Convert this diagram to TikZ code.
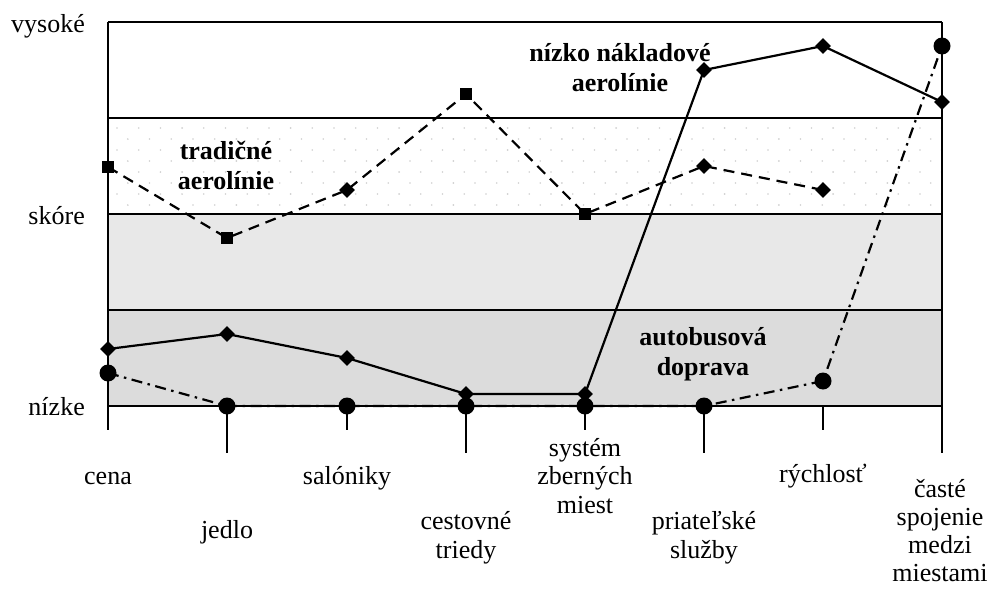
\documentclass[tikz,border=0pt]{standalone}
\usepackage{fontspec}
\setmainfont{Liberation Serif}
\usetikzlibrary{shapes.geometric}
\begin{document}
\begin{tikzpicture}[x=1pt,y=-1pt,
  lbl/.style={font=\fontsize{26}{28.5}\selectfont, align=center, inner sep=0pt},
  blbl/.style={font=\fontsize{26}{30}\selectfont\bfseries, align=center, inner sep=0pt},
  ylbl/.style={font=\fontsize{26}{28.5}\selectfont, anchor=base east, inner sep=0pt},
  frame/.style={line width=1.8pt},
  tickline/.style={line width=1.6pt},
  trad/.style={line width=2.2pt, dash pattern=on 11pt off 7pt},
  low/.style={line width=2.2pt},
  bus/.style={line width=2.2pt, dash pattern=on 11pt off 5.5pt on 2.5pt off 5.5pt},
  sqmark/.style={rectangle, fill=black, minimum size=11.5pt, inner sep=0pt},
  dmmark/.style={diamond, fill=black, minimum size=16pt, inner sep=0pt},
  cmark/.style={circle, fill=black, minimum size=17pt, inner sep=0pt},
]
\definecolor{bandA}{HTML}{E8E8E8}
\definecolor{bandB}{HTML}{DCDCDC}
\definecolor{dotc}{HTML}{CFCFCF}
\useasboundingbox (0,0) rectangle (991,589);

% bands
\fill[bandA] (108,214) rectangle (942,310);
\fill[bandB] (108,310) rectangle (942,406);
\begin{scope}
\clip (108,118) rectangle (942,214);
\foreach \i in {0,...,8}{
  \foreach \j in {0,...,39}{
    \pgfmathsetmacro{\dx}{117+21.7*\j+10.85*mod(\i,2)}
    \pgfmathsetmacro{\dy}{128+11*\i}
    \fill[dotc] (\dx,\dy) circle (0.9pt);
  }
}
\end{scope}

% frame coordinates
\coordinate (tl) at (108,22);
\coordinate (tr) at (942,22);
\coordinate (l1) at (108,118);
\coordinate (r1) at (942,118);
\coordinate (l2) at (108,214);
\coordinate (r2) at (942,214);
\coordinate (l3) at (108,310);
\coordinate (r3) at (942,310);
\coordinate (bl) at (108,406);
\coordinate (br) at (942,406);

% category baseline points and tick ends
\foreach \n/\x/\e in {1/108/430, 2/227/453, 3/347/430, 4/466/453, 5/585/430, 6/704/453, 7/823/430, 8/942/453}{
  \coordinate (b\n) at (\x,406);
  \coordinate (e\n) at (\x,\e);
}

\draw[frame] (tl) -- (tr);
\draw[frame] (l1) -- (r1);
\draw[frame] (l2) -- (r2);
\draw[frame] (l3) -- (r3);
\draw[frame] (bl) -- (br);
\draw[frame] (tl) -- (b1);
\draw[frame] (tr) -- (b8);
\foreach \n in {1,...,8}{ \draw[tickline] (b\n) -- (e\n); }

% data points
% traditional airlines
\coordinate (ta1) at (108,167);
\coordinate (ta2) at (227,238);
\coordinate (ta3) at (347,190);
\coordinate (ta4) at (466,94);
\coordinate (ta5) at (585,214);
\coordinate (ta6) at (704,166);
\coordinate (ta7) at (823,190);
% low-cost airlines
\coordinate (lc1) at (108,349);
\coordinate (lc2) at (227,334);
\coordinate (lc3) at (347,358);
\coordinate (lc4) at (466,394);
\coordinate (lc5) at (585,394);
\coordinate (lc6) at (704,70);
\coordinate (lc7) at (823,46);
\coordinate (lc8) at (942,102);
% bus
\coordinate (bu1) at (108,373);
\coordinate (bu2) at (227,406);
\coordinate (bu3) at (347,406);
\coordinate (bu4) at (466,406);
\coordinate (bu5) at (585,406);
\coordinate (bu6) at (704,406);
\coordinate (bu7) at (823,381);
\coordinate (bu8) at (942,46);

\draw[trad] (ta1) -- (ta2) -- (ta3) -- (ta4) -- (ta5) -- (ta6) -- (ta7);
\draw[low] (lc1) -- (lc2) -- (lc3) -- (lc4) -- (lc5) -- (lc6) -- (lc7) -- (lc8);
\draw[bus] (bu1) -- (bu2) -- (bu3) -- (bu4) -- (bu5) -- (bu6) -- (bu7) -- (bu8);

% markers
\node[sqmark] (mta1) at (ta1) {};
\node[sqmark] (mta2) at (ta2) {};
\node[dmmark] (mta3) at (ta3) {};
\node[sqmark] (mta4) at (ta4) {};
\node[sqmark] (mta5) at (ta5) {};
\node[dmmark] (mta6) at (ta6) {};
\node[dmmark] (mta7) at (ta7) {};
\foreach \n in {1,...,8}{ \node[dmmark] (mlc\n) at (lc\n) {}; }
\foreach \n in {1,...,8}{ \node[cmark] (mbu\n) at (bu\n) {}; }

% axis labels
\node[ylbl] (yhigh) at (85,32) {vysoké};
\node[ylbl] (ymid) at (85,224) {skóre};
\node[ylbl] (ylow) at (85,415) {nízke};

% category labels
\node[lbl] (k1) at (108,478) {cena};
\node[lbl] (k2) at (227,532) {jedlo};
\node[lbl] (k3) at (347,478) {salóniky};
\node[lbl] (k4) at (466,538) {cestovné\\triedy};
\node[lbl] (k5) at (585,476) {systém\\zberných\\miest};
\node[lbl] (k6) at (704,538) {priateľské\\služby};
\node[lbl] (k7) at (823,476) {rýchlosť};
\node[lbl, font=\fontsize{26}{28}\selectfont] (k8) at (940,531) {časté\\spojenie\\medzi\\miestami};

% series labels
\node[blbl] (s1) at (226,165) {tradičné\\aerolínie};
\node[blbl] (s2) at (620,68) {nízko nákladové\\aerolínie};
\node[blbl] (s3) at (703,354) {autobusová\\doprava};
\end{tikzpicture}
\end{document}
